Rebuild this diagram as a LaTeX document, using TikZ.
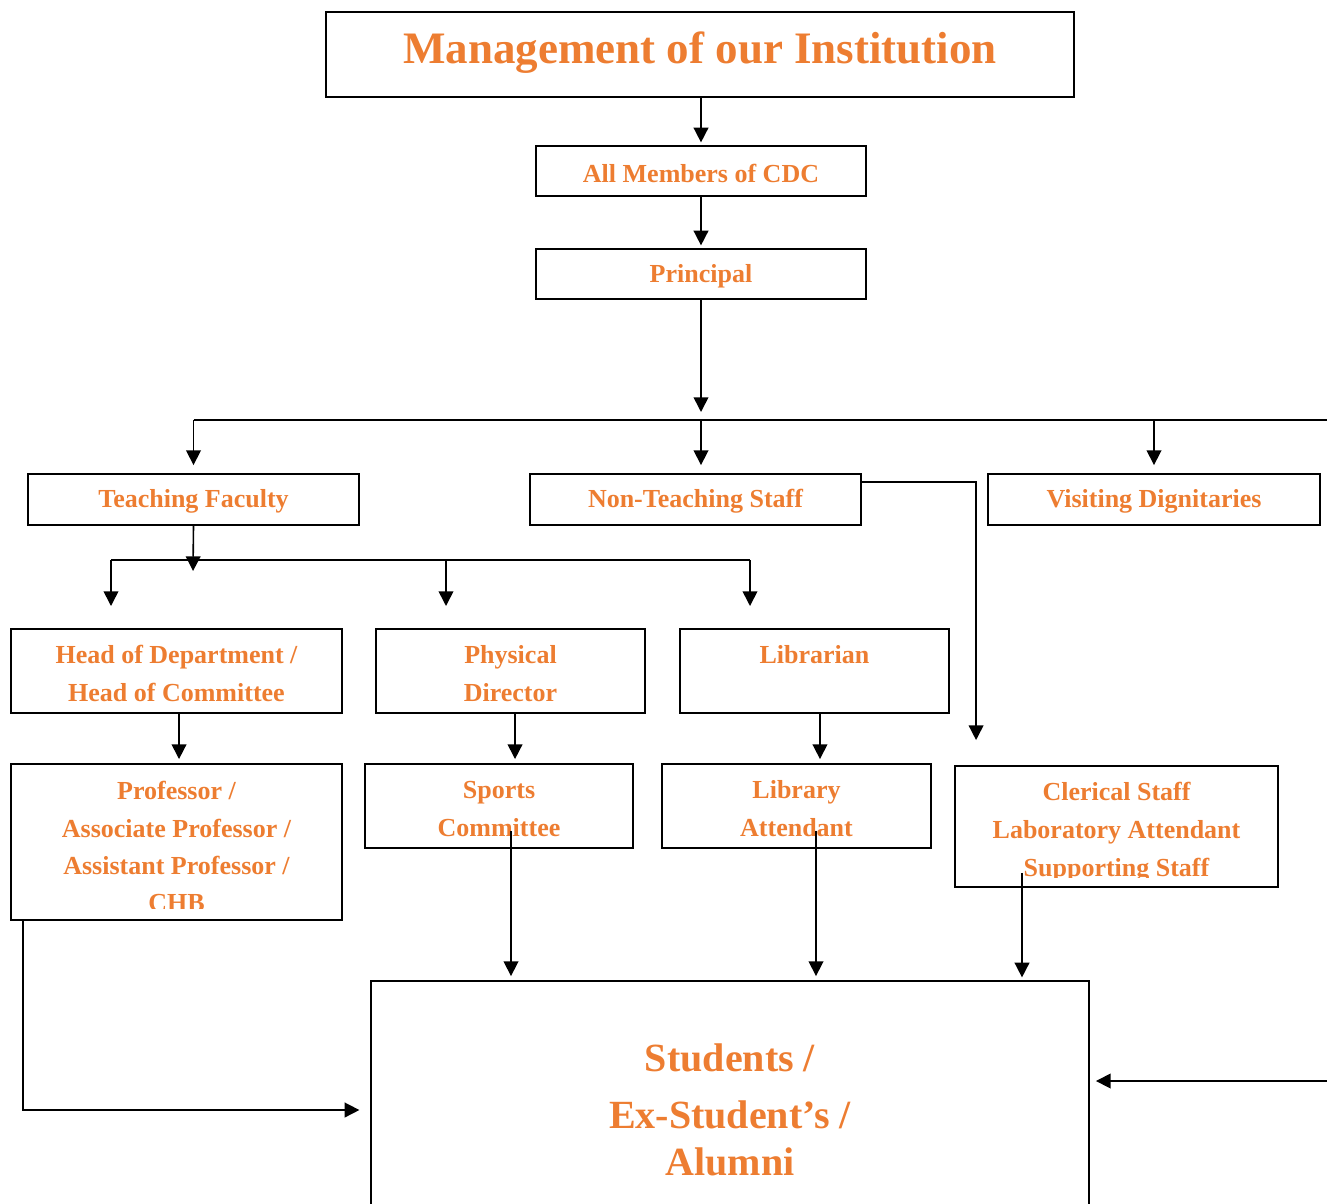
\documentclass[tikz,border=0pt]{standalone}
\usepackage{fontspec}
\setmainfont{Liberation Serif}
\usetikzlibrary{arrows.meta,calc}
\definecolor{orgtext}{HTML}{ED7D31}

\begin{document}
\begin{tikzpicture}[x=0.75pt,y=-0.75pt,
        orgbox/.style={draw,line width=1.4pt,text=orgtext,align=center,inner sep=0pt},
        unitbox/.style={orgbox,font=\fontsize{19.5}{28}\selectfont\bfseries,
            execute at begin node={\rule{0pt}{17pt}}},
        twoline/.style={unitbox,text height=45.4pt},
        arr/.style={line width=1.2pt,-{Triangle[width=11pt,length=11pt]}},
        wire/.style={line width=1.2pt}]
        \clip (0,0) rectangle (1327,1203);

        \node[orgbox,line width=0.8pt,minimum width=561pt,minimum height=63.75pt,text depth=10pt,
            font=\fontsize{33.75}{40}\selectfont\bfseries] (title) at (700,54.5) {Management of our Institution};
        \node[unitbox,minimum width=247.5pt,minimum height=37.5pt] (cdc) at (701,171) {All Members of CDC};
        \node[unitbox,minimum width=247.5pt,minimum height=37.5pt] (principal) at (701,274) {Principal};

        \node[unitbox,minimum width=248.25pt,minimum height=38.25pt] (teach) at (193.5,499.5) {Teaching Faculty};
        \node[unitbox,minimum width=248.25pt,minimum height=38.25pt] (nonteach) at (695.5,499.5) {Non-Teaching Staff};
        \node[unitbox,minimum width=249pt,minimum height=38.25pt] (visit) at (1154,499.5) {Visiting Dignitaries};

        \node[twoline,minimum width=248.25pt,minimum height=63pt] (hod) at (176.5,671) {Head of Department /\\Head of Committee};
        \node[twoline,minimum width=201.75pt,minimum height=63pt] (phys) at (510.5,671) {Physical\\Director};
        \node[twoline,minimum width=201.75pt,minimum height=63pt] (lib) at (814.5,671) {Librarian\\\phantom{X}};

        \node[unitbox,minimum width=248.25pt,minimum height=117pt] (prof) at (176.5,842) {};
        \begin{scope}
            \clip (11,764) rectangle (342,908);
            \node[unitbox,draw=none] (proftext) at ([yshift=-3.5pt]prof.center) {Professor /\\Associate Professor /\\Assistant Professor /\\CHB};
        \end{scope}
        \node[twoline,minimum width=201pt,minimum height=63pt] (sports) at (499,806) {Sports\\Committee};
        \node[twoline,minimum width=201.75pt,minimum height=63pt] (libatt) at (796.5,806) {Library\\Attendant};
        \node[unitbox,minimum width=242.25pt,minimum height=90.75pt] (clerk) at (1116.5,826.5) {};
        \begin{scope}
            \clip (955,766) rectangle (1278,877);
            \node[unitbox,draw=none,font=\fontsize{19.5}{28.5}\selectfont\bfseries] (clerktext) at ([yshift=-4.25pt]clerk.center) {Clerical Staff\\Laboratory Attendant\\Supporting Staff};
        \end{scope}

        \node[orgbox,minimum width=538.5pt,minimum height=193.5pt,
            font=\fontsize{30}{35}\selectfont\bfseries] (students) at (730,1110) {Students /\\[7.5pt]Ex-Student’s /\\Alumni};

        \coordinate (bus) at (701,420);
        \coordinate (busR) at (1345,420);
        \coordinate (split) at (193,560);
        \coordinate (tfend) at (193,571);
        \coordinate (hodin) at (111,606);
        \coordinate (pdin) at (446,606);
        \coordinate (libin) at (750,606);
        \coordinate (spout) at ($(sports.south)+(12,-18)$);
        \coordinate (laout) at ($(libatt.south)+(19.5,-18)$);
        \coordinate (csout) at ($(clerk.south)+(-94.5,-15)$);

        \draw[arr,shorten >=2pt] (cdc.north |- title.south) -- (cdc.north);
        \draw[arr,shorten >=2pt] (cdc.south) -- (principal.north);
        \draw[arr,shorten >=6pt] (principal.south) -- (bus);
        \draw[arr,shorten >=4.5pt] (teach.north |- bus) -- (busR) |- ([yshift=21.75pt]students.east);
        \draw[arr,shorten >=6pt] (teach.north |- bus) -- (teach.north);
        \draw[arr,shorten >=6pt] (bus) -- (bus |- nonteach.north);
        \draw[arr,shorten >=6pt] (visit.north |- bus) -- (visit.north);
        \draw[arr] ($(nonteach.north east)+(0,9)$) -| ($(clerk.north west)+(22,-25)$);

        \draw[arr] (teach.south) -- (tfend);
        \draw[wire] (hodin |- split) -- (libin |- split);
        \draw[arr] (hodin |- split) -- (hodin);
        \draw[arr] (pdin |- split) -- (pdin);
        \draw[arr] (libin |- split) -- (libin);

        \draw[arr,shorten >=3pt] ([xshift=1.9pt]hod.south) -- ([xshift=1.9pt]hod.south |- prof.north);
        \draw[arr,shorten >=3pt] ([xshift=3.4pt]phys.south) -- ([xshift=3.4pt]phys.south |- sports.north);
        \draw[arr,shorten >=3pt] ([xshift=4.1pt]lib.south) -- ([xshift=4.1pt]lib.south |- libatt.north);

        \draw[arr,shorten >=3pt] (spout) -- (spout |- students.north);
        \draw[arr,shorten >=3pt] (laout) -- (laout |- students.north);
        \draw[arr,shorten >=2pt] (csout) -- (csout |- students.north);
        \draw[arr,shorten >=8pt] ($(prof.south west)+(13,0)$) |- (students.west);
    \end{tikzpicture}
\end{document}
